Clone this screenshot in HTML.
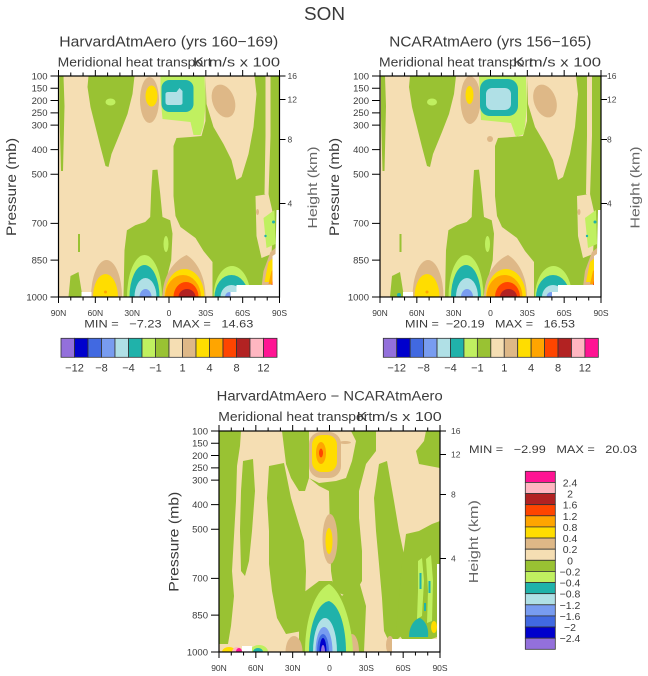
<!DOCTYPE html>
<html><head><meta charset="utf-8"><style>
html,body{margin:0;padding:0;background:#fff;}
svg{display:block;font-family:"Liberation Sans",sans-serif;}
.g{fill:#99C233}.lg{fill:#C0F060}.w{fill:#F5DEB3}.bw{fill:#DEB887}.gd{fill:#FFDD00}
.or{fill:#FFA500}.orr{fill:#FF4500}.fb{fill:#B22222}.t{fill:#20B2AA}.pb{fill:#B0E0E6}
.cb{fill:#789CF0}.rb{fill:#4169E1}.mb{fill:#0000CD}.pu{fill:#9370DB}.pk{fill:#FFB6C1}.mg{fill:#FF1493}.wh{fill:#fff}
text{fill:#3a3a3a}
</style></head><body>
<svg width="648" height="676" viewBox="0 0 648 676" xmlns="http://www.w3.org/2000/svg">
<defs>
<clipPath id="cp"><rect x="0" y="0" width="221" height="221"/></clipPath>
<g id="fa">
<rect class="w" width="221" height="221"/>
<path class="g" d="M1,0 L5,0 L6,30 L4.5,95 L2.5,95 L1,40Z"/>
<path class="g" d="M30,0 L76,0 L74,18 L69,38 L62,56 L53,78 L50,91 L47,90 L42,71 L37,51 L32,31 L29,11Z"/>
<ellipse class="lg" cx="52" cy="26" rx="5" ry="3.5"/>
<path class="g" d="M146,0 L221,0 L221,221 L154,221 L154,186 L145,175 L137,162 L122,151 L117,140 L115,120 L115,70 L118,62 L132,61 L143,60 L147,45 L147,0Z"/>
<path class="g" d="M94,94 L99,93.6 L101.7,117.6 L104,141 L111.7,144.3 L114,157.6 L112.7,184.3 L103.4,221 L65,221 L66,174.3 L68.4,154.3 L76.7,149.3 L86.7,146 L91.7,141 L92.7,114.3Z"/>
<ellipse class="lg" cx="107.5" cy="168" rx="2.5" ry="8"/>
<path class="lg" d="M102,0 L146,0 L147,30 L145,50 L142,59 L135,59 L132,46 L104,43 L102,20Z"/>
<rect class="t" x="103" y="4" width="32" height="32" rx="8"/>
<path class="pb" d="M107,18 Q107,16 110,16 L118,16 L121,12 L124,15 L124,27 Q124,29 121,29 L110,29 Q107,29 107,26Z"/>
<ellipse class="bw" cx="91" cy="24" rx="9.5" ry="23"/>
<ellipse class="gd" cx="93" cy="20" rx="6" ry="10.5"/>
<path class="w" d="M147,0 L196,0 L198,18 L195,51 L190,78 L183,101 L178,104 L173,84 L165,68 L155,51 L148,28Z"/>
<ellipse class="bw" cx="165" cy="25" rx="11" ry="17" transform="rotate(-20 165 25)"/>
<path class="w" d="M207,0 L212,0 L212,60 L210,120 L206,118 L207,60Z"/>
<path class="w" d="M197,120 L210,118 L215,140 L213,178 L203,182 L198,160Z"/>
<path class="lg" d="M205,142 L216,134 L217,168 L208,172Z"/>
<circle class="t" cx="215" cy="146" r="1.5"/><circle class="t" cx="207" cy="160" r="1.2"/>
<ellipse class="bw" cx="199" cy="136" rx="1.5" ry="3"/>
<path class="g" d="M12,200 L20,196 L24,221 L10,221Z"/>
<rect class="g" x="19.5" y="158" width="2" height="18"/>
<ellipse class="bw" cx="48" cy="221" rx="15.5" ry="37"/>
<ellipse class="gd" cx="47" cy="221" rx="12.5" ry="23"/>
<circle class="or" cx="47" cy="216" r="1.5"/>
<ellipse class="lg" cx="86" cy="221" rx="17.5" ry="42"/>
<ellipse class="t" cx="86" cy="221" rx="15" ry="32"/>
<ellipse class="pb" cx="87" cy="221" rx="11" ry="19"/>
<ellipse class="cb" cx="87" cy="221" rx="6" ry="8"/>
<path class="bw" d="M104,221 C104,200 115,185 128,179 C138,185 147,200 147,221Z"/>
<ellipse class="gd" cx="126" cy="221" rx="20" ry="28"/>
<ellipse class="or" cx="124.5" cy="221" rx="18" ry="22"/>
<ellipse class="orr" cx="127.5" cy="221" rx="12.5" ry="15"/>
<ellipse class="fb" cx="128.5" cy="221" rx="8.5" ry="8"/>
<ellipse class="lg" cx="173.5" cy="221" rx="18.5" ry="31"/>
<ellipse class="t" cx="173" cy="221" rx="17" ry="22"/>
<ellipse class="pb" cx="173" cy="221" rx="11" ry="12"/>
<ellipse class="cb" cx="171" cy="221" rx="4.5" ry="5"/>
<path class="bw" d="M212,176 L217,172 L217,211 L203,211 L205,195Z"/>
<path class="gd" d="M210,186 L217,180 L217,206 L206,206Z"/>
<path class="or" d="M213,195 L217,192 L217,208 L210,208Z"/>
<path class="orr" d="M215,200 L217,198 L217,209 L213,209Z"/>
<path class="wh" d="M218,134 L221,134 L221,221 L172,221 L172,216 L178,216 L178,209 L214,209 L214,180 L217,178Z"/>
<rect class="wh" x="23" y="216" width="10" height="5"/>
</g>
<g id="fc">
<rect class="w" width="221" height="221"/>
<path class="g" d="M0,0 L22,0 L21,15 L18,35 L17,70 L15,105 L13,140 L15,165 L12,195 L9,213 L0,213Z"/>
<path class="g" d="M24,30 L34,28 L36,60 L33,100 L30,130 L26,145 L22,140 L21,100 L22,60Z"/>
<path class="g" d="M50,35 L65,32 L68,47 L72,67 L78,87 L85,110 L87,140 L86,173 L83,200 L67,203 L58,187 L53,160 L50,133 L50,100 L48,67Z"/>
<path class="g" d="M63,0 L90,0 L90,47 L86,60 L80,60 L72,47 L67,33Z"/>
<path class="g" d="M90,47 L100,52 L117,50 L127,47 L133,30 L137,10 L132,0 L157,0 L157,20 L147,33 L140,60 L140,87 L143,120 L143,150 L133,167 L115,160 L112,140 L111,100 L110,60 L100,55Z"/>
<path class="g" d="M80,165 L100,150 L113,150 L123,165 L140,150 L147,175 L145,221 L80,221Z"/>
<path class="g" d="M160,33 L168,30 L175,70 L180,100 L187,133 L193,167 L187,200 L172,215 L165,200 L163,167 L160,133 L157,100 L155,67Z"/>
<path class="g" d="M187,103 L200,100 L213,93 L221,90 L221,205 L207,210 L187,213 L177,200 L180,167 L183,133Z"/>
<path class="g" d="M207,0 L221,0 L221,37 L200,33 L197,20 L205,10Z"/>
<ellipse class="bw" cx="133" cy="221" rx="7" ry="18"/>
<ellipse class="bw" cx="75" cy="221" rx="8.5" ry="16"/>
<ellipse class="bw" cx="171" cy="214" rx="4" ry="9"/>
<path class="lg" d="M86,221 C86,190 95,160 110,153 C122,160 133,190 134,221Z"/>
<path class="t" d="M90,221 C90,195 98,172 110,170 C122,175 127,200 127,221Z"/>
<ellipse class="pb" cx="106" cy="221" rx="12" ry="34"/>
<ellipse class="cb" cx="105" cy="221" rx="8.5" ry="25"/>
<ellipse class="rb" cx="104" cy="221" rx="6" ry="18"/>
<ellipse class="mb" cx="104" cy="221" rx="3.5" ry="14"/>
<ellipse class="pu" cx="104" cy="221" rx="2" ry="7"/>
<rect class="bw" x="90" y="1" width="32" height="46" rx="12"/>
<ellipse class="bw" cx="126" cy="11.5" rx="6" ry="1.5"/>
<rect class="gd" x="93" y="4" width="25" height="37" rx="10"/>
<ellipse class="or" cx="102" cy="22" rx="5" ry="11"/>
<ellipse class="orr" cx="102" cy="22" rx="2" ry="4.5"/>
<ellipse class="bw" cx="111" cy="108" rx="7.5" ry="25"/>
<ellipse class="gd" cx="110" cy="110" rx="3.5" ry="13"/>
<path class="lg" d="M199,130 L203,127 L205,150 L203,185 L198,188 L199,160Z"/>
<path class="lg" d="M207,128 L212,124 L214,150 L213,190 L208,192 L209,160Z"/>
<rect class="t" x="200.5" y="142" width="2" height="16"/>
<rect class="t" x="209.5" y="150" width="2" height="12"/>
<rect class="t" x="205" y="172" width="2" height="8"/>
<path class="t" d="M190,206 C190,196 195,188 201,187 C207,190 210,198 209,206Z"/>
<ellipse class="gd" cx="215" cy="196" rx="3" ry="6"/>
<rect class="wh" x="173" y="208" width="48" height="13"/>
<rect class="wh" x="218" y="133" width="3" height="75"/>
<ellipse class="lg" cx="40" cy="221" rx="9" ry="7"/>
<ellipse class="t" cx="39" cy="221" rx="5" ry="4"/>
<ellipse class="gd" cx="10" cy="221" rx="7" ry="5"/>
<ellipse class="pk" cx="18" cy="221" rx="5" ry="5"/>
<ellipse class="mg" cx="20" cy="221" rx="3" ry="4"/>
<rect class="wh" x="23" y="215" width="10" height="6"/>
</g>
<g id="ax">
<rect x="0" y="0" width="221" height="221" fill="none" stroke="#000" stroke-width="1.2"/>
<path fill="none" stroke="#000" stroke-width="1" d="M0,221v6 M12.28,221v3.5 M24.56,221v3.5 M36.83,221v6 M49.11,221v3.5 M61.39,221v3.5 M73.67,221v6 M85.94,221v3.5 M98.22,221v3.5 M110.5,221v6 M122.78,221v3.5 M135.06,221v3.5 M147.33,221v6 M159.61,221v3.5 M171.89,221v3.5 M184.17,221v6 M196.44,221v3.5 M208.72,221v3.5 M221,221v6
M0,0v-6 M12.28,0v-3.5 M24.56,0v-3.5 M36.83,0v-6 M49.11,0v-3.5 M61.39,0v-3.5 M73.67,0v-6 M85.94,0v-3.5 M98.22,0v-3.5 M110.5,0v-6 M122.78,0v-3.5 M135.06,0v-3.5 M147.33,0v-6 M159.61,0v-3.5 M171.89,0v-3.5 M184.17,0v-6 M196.44,0v-3.5 M208.72,0v-3.5 M221,0v-6
M0,0h-8 M0,12.28h-8 M0,24.56h-8 M0,36.83h-8 M0,49.11h-8 M0,73.67h-8 M0,98.22h-8 M0,147.33h-8 M0,184.17h-8 M0,221h-8
M221,0h6 M221,23.5h6 M221,63.5h6 M221,127.5h6"/>
<g font-size="9.5" text-anchor="end">
<text x="-11" y="3.4">100</text><text x="-11" y="15.7">150</text><text x="-11" y="28">200</text>
<text x="-11" y="40.2">250</text><text x="-11" y="52.5">300</text><text x="-11" y="77.1">400</text>
<text x="-11" y="101.6">500</text><text x="-11" y="150.7">700</text><text x="-11" y="187.6">850</text>
<text x="-11" y="224.4">1000</text>
</g>
<g font-size="8.5" text-anchor="middle">
<text x="0" y="240">90N</text><text x="36.83" y="240">60N</text><text x="73.67" y="240">30N</text>
<text x="110.5" y="240">0</text><text x="147.33" y="240">30S</text><text x="184.17" y="240">60S</text>
<text x="221" y="240">90S</text>
</g>
</g>
</defs>

<text x="324.5" y="20" font-size="18" text-anchor="middle" textLength="41" lengthAdjust="spacingAndGlyphs">SON</text>

<!-- Top-left panel -->
<g transform="translate(58.5,76)"><g clip-path="url(#cp)"><use href="#fa"/></g><use href="#ax"/>
<g font-size="8.5"><text x="229" y="3" style="fill:#444">16</text><text x="229" y="26.5" style="fill:#444">12</text><text x="229" y="66.5" style="fill:#444">8</text><text x="229" y="130.5" style="fill:#444">4</text></g>
</g>
<text x="59.3" y="46.5" font-size="14.5" textLength="219" lengthAdjust="spacingAndGlyphs">HarvardAtmAero (yrs 160−169)</text>
<text x="57.7" y="66.3" font-size="13" textLength="154" lengthAdjust="spacingAndGlyphs">Meridional heat transport</text>
<text x="193" y="66.3" font-size="13" textLength="87" lengthAdjust="spacingAndGlyphs">K m/s x 100</text>
<text transform="translate(11,187) rotate(-90)" font-size="14" text-anchor="middle" dominant-baseline="central" textLength="98" lengthAdjust="spacingAndGlyphs">Pressure (mb)</text>
<text transform="translate(312.5,187.5) rotate(-90)" font-size="13" text-anchor="middle" dominant-baseline="central" textLength="82" lengthAdjust="spacingAndGlyphs" style="fill:#666">Height (km)</text>
<text x="84.3" y="327.5" font-size="11" style="white-space:pre" textLength="169" lengthAdjust="spacingAndGlyphs">MIN =   −7.23   MAX =   14.63</text>

<!-- Top-right panel -->
<g transform="translate(380,76)"><g clip-path="url(#cp)"><use href="#fa"/>
<path class="lg" d="M99,0 L146,0 L146,35 L144,58 L136,61 L131,47 L101,44Z"/>
<rect class="t" x="100" y="3" width="38" height="37" rx="10"/>
<rect class="pb" x="106" y="12" width="25" height="22" rx="6"/>
<ellipse class="bw" cx="90" cy="24" rx="9.5" ry="24"/>
<ellipse class="gd" cx="89.5" cy="19" rx="4" ry="9"/>
<ellipse class="bw" cx="110" cy="63" rx="3" ry="3"/>
<ellipse class="t" cx="19" cy="219" rx="2" ry="2"/>
</g><use href="#ax"/>
<g font-size="8.5"><text x="227" y="3" style="fill:#444">16</text><text x="227" y="26.5" style="fill:#444">12</text><text x="227" y="66.5" style="fill:#444">8</text><text x="227" y="130.5" style="fill:#444">4</text></g>
</g>
<text x="389.3" y="46.5" font-size="14.5" textLength="202" lengthAdjust="spacingAndGlyphs">NCARAtmAero (yrs 156−165)</text>
<text x="379" y="66.3" font-size="13" textLength="154" lengthAdjust="spacingAndGlyphs">Meridional heat transport</text>
<text x="513" y="66.3" font-size="13" textLength="88" lengthAdjust="spacingAndGlyphs">K m/s x 100</text>
<text transform="translate(334,187) rotate(-90)" font-size="14" text-anchor="middle" dominant-baseline="central" textLength="98" lengthAdjust="spacingAndGlyphs">Pressure (mb)</text>
<text transform="translate(635,187.5) rotate(-90)" font-size="13" text-anchor="middle" dominant-baseline="central" textLength="82" lengthAdjust="spacingAndGlyphs" style="fill:#666">Height (km)</text>
<text x="405" y="327.5" font-size="11" style="white-space:pre" textLength="170" lengthAdjust="spacingAndGlyphs">MIN =  −20.19   MAX =   16.53</text>

<!-- colorbars top -->
<g stroke="#333" stroke-width="0.8">
<rect x="61" y="338.3" width="13.5" height="19" fill="#9370DB"/><rect x="74.5" y="338.3" width="13.5" height="19" fill="#0000CD"/>
<rect x="88" y="338.3" width="13.5" height="19" fill="#4169E1"/><rect x="101.5" y="338.3" width="13.5" height="19" fill="#789CF0"/>
<rect x="115" y="338.3" width="13.5" height="19" fill="#B0E0E6"/><rect x="128.5" y="338.3" width="13.5" height="19" fill="#20B2AA"/>
<rect x="142" y="338.3" width="13.5" height="19" fill="#C0F060"/><rect x="155.5" y="338.3" width="13.5" height="19" fill="#99C233"/>
<rect x="169" y="338.3" width="13.5" height="19" fill="#F5DEB3"/><rect x="182.5" y="338.3" width="13.5" height="19" fill="#DEB887"/>
<rect x="196" y="338.3" width="13.5" height="19" fill="#FFDD00"/><rect x="209.5" y="338.3" width="13.5" height="19" fill="#FFA500"/>
<rect x="223" y="338.3" width="13.5" height="19" fill="#FF4500"/><rect x="236.5" y="338.3" width="13.5" height="19" fill="#B22222"/>
<rect x="250" y="338.3" width="13.5" height="19" fill="#FFB6C1"/><rect x="263.5" y="338.3" width="13.5" height="19" fill="#FF1493"/>
</g>
<g font-size="11" text-anchor="middle">
<text x="74.5" y="371.5">−12</text><text x="101.5" y="371.5">−8</text><text x="128.5" y="371.5">−4</text><text x="155.5" y="371.5">−1</text>
<text x="182.5" y="371.5">1</text><text x="209.5" y="371.5">4</text><text x="236.5" y="371.5">8</text><text x="263.5" y="371.5">12</text>
</g>
<g stroke="#333" stroke-width="0.8">
<rect x="383.3" y="338.3" width="13.44" height="19" fill="#9370DB"/><rect x="396.74" y="338.3" width="13.44" height="19" fill="#0000CD"/>
<rect x="410.18" y="338.3" width="13.44" height="19" fill="#4169E1"/><rect x="423.62" y="338.3" width="13.44" height="19" fill="#789CF0"/>
<rect x="437.06" y="338.3" width="13.44" height="19" fill="#B0E0E6"/><rect x="450.5" y="338.3" width="13.44" height="19" fill="#20B2AA"/>
<rect x="463.94" y="338.3" width="13.44" height="19" fill="#C0F060"/><rect x="477.38" y="338.3" width="13.44" height="19" fill="#99C233"/>
<rect x="490.82" y="338.3" width="13.44" height="19" fill="#F5DEB3"/><rect x="504.26" y="338.3" width="13.44" height="19" fill="#DEB887"/>
<rect x="517.7" y="338.3" width="13.44" height="19" fill="#FFDD00"/><rect x="531.14" y="338.3" width="13.44" height="19" fill="#FFA500"/>
<rect x="544.58" y="338.3" width="13.44" height="19" fill="#FF4500"/><rect x="558.02" y="338.3" width="13.44" height="19" fill="#B22222"/>
<rect x="571.46" y="338.3" width="13.44" height="19" fill="#FFB6C1"/><rect x="584.9" y="338.3" width="13.44" height="19" fill="#FF1493"/>
</g>
<g font-size="11" text-anchor="middle">
<text x="396.7" y="371.5">−12</text><text x="423.6" y="371.5">−8</text><text x="450.5" y="371.5">−4</text><text x="477.4" y="371.5">−1</text>
<text x="504.3" y="371.5">1</text><text x="531.1" y="371.5">4</text><text x="558" y="371.5">8</text><text x="584.9" y="371.5">12</text>
</g>

<!-- Bottom panel -->
<g transform="translate(219,431)"><g clip-path="url(#cp)"><use href="#fc"/></g><use href="#ax"/>
<g font-size="8.5"><text x="232" y="3" style="fill:#444">16</text><text x="232" y="26.5" style="fill:#444">12</text><text x="232" y="66.5" style="fill:#444">8</text><text x="232" y="130.5" style="fill:#444">4</text></g>
</g>
<text x="216.7" y="400.5" font-size="13.5" textLength="226" lengthAdjust="spacingAndGlyphs">HarvardAtmAero − NCARAtmAero</text>
<text x="218.3" y="420.8" font-size="13" textLength="154" lengthAdjust="spacingAndGlyphs">Meridional heat transport</text>
<text x="356.7" y="420.8" font-size="13" textLength="85" lengthAdjust="spacingAndGlyphs">K m/s x 100</text>
<text transform="translate(173.3,541.7) rotate(-90)" font-size="14" text-anchor="middle" dominant-baseline="central" textLength="100" lengthAdjust="spacingAndGlyphs">Pressure (mb)</text>
<text transform="translate(473.3,541.7) rotate(-90)" font-size="13" text-anchor="middle" dominant-baseline="central" textLength="83" lengthAdjust="spacingAndGlyphs" style="fill:#666">Height (km)</text>
<text x="469" y="453" font-size="11" style="white-space:pre" textLength="168" lengthAdjust="spacingAndGlyphs">MIN =   −2.99   MAX =   20.03</text>

<g stroke="#333" stroke-width="0.8">
<rect x="525.3" y="471.3" width="30" height="11.125" fill="#FF1493"/>
<rect x="525.3" y="482.43" width="30" height="11.125" fill="#FFB6C1"/>
<rect x="525.3" y="493.55" width="30" height="11.125" fill="#B22222"/>
<rect x="525.3" y="504.68" width="30" height="11.125" fill="#FF4500"/>
<rect x="525.3" y="515.8" width="30" height="11.125" fill="#FFA500"/>
<rect x="525.3" y="526.93" width="30" height="11.125" fill="#FFDD00"/>
<rect x="525.3" y="538.05" width="30" height="11.125" fill="#DEB887"/>
<rect x="525.3" y="549.18" width="30" height="11.125" fill="#F5DEB3"/>
<rect x="525.3" y="560.3" width="30" height="11.125" fill="#99C233"/>
<rect x="525.3" y="571.43" width="30" height="11.125" fill="#C0F060"/>
<rect x="525.3" y="582.55" width="30" height="11.125" fill="#20B2AA"/>
<rect x="525.3" y="593.68" width="30" height="11.125" fill="#B0E0E6"/>
<rect x="525.3" y="604.8" width="30" height="11.125" fill="#789CF0"/>
<rect x="525.3" y="615.93" width="30" height="11.125" fill="#4169E1"/>
<rect x="525.3" y="627.05" width="30" height="11.125" fill="#0000CD"/>
<rect x="525.3" y="638.18" width="30" height="11.125" fill="#9370DB"/>
</g>
<g font-size="10.5" text-anchor="middle">
<text x="570" y="486.4">2.4</text><text x="570" y="497.5">2</text><text x="570" y="508.7">1.6</text>
<text x="570" y="519.8">1.2</text><text x="570" y="530.9">0.8</text><text x="570" y="542.1">0.4</text>
<text x="570" y="553.2">0.2</text><text x="570" y="564.3">0</text><text x="570" y="575.4">−0.2</text>
<text x="570" y="586.6">−0.4</text><text x="570" y="597.7">−0.8</text><text x="570" y="608.8">−1.2</text>
<text x="570" y="619.9">−1.6</text><text x="570" y="631.1">−2</text><text x="570" y="642.2">−2.4</text>
</g>
</svg>
</body></html>
